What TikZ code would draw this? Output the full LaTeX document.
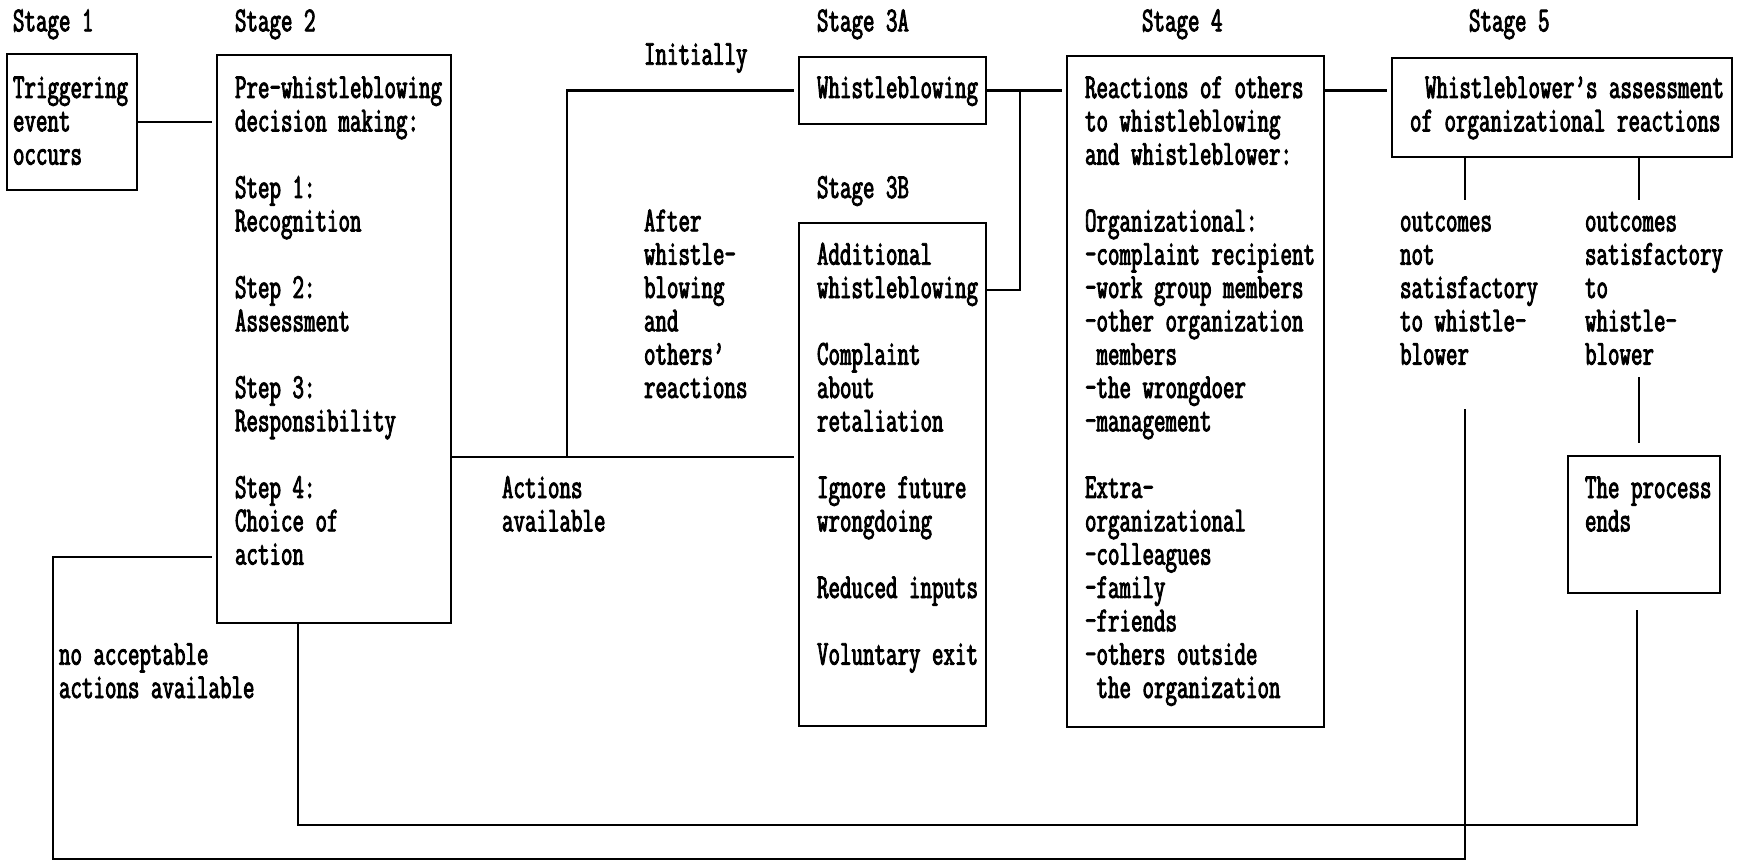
\documentclass[tikz,border=0pt]{standalone}
\usepackage{fontspec}
\newfontfamily\tw{Latin Modern Mono}[FakeStretch=0.638, FakeBold=2.5]
\newcommand\ml[1]{\vtop{\baselineskip=33.33pt\lineskiplimit=-\maxdimen\lineskip=0pt\halign{##\hfil\cr#1\crcr}}}
\tikzset{
  ln/.style={line width=2.3pt},
  box/.style={draw, line width=2.3pt, inner sep=0pt, outer sep=0pt, anchor=north west},
  txt/.style={inner sep=0pt, outer sep=0pt, anchor=base west, font={\tw\fontsize{35pt}{33.33pt}\selectfont}}
}
\begin{document}
\begin{tikzpicture}[x=1pt,y=-1pt]
\useasboundingbox (0,0) rectangle (1739,861);
% stage labels
\node[txt] (st1) at (13,31.3) {Stage 1};
\node[txt] (st2) at (235,31.3) {Stage 2};
\node[txt] (st3a) at (817,31.3) {Stage 3A};
\node[txt] (st4) at (1142,31.3) {Stage 4};
\node[txt] (st5) at (1469,31.3) {Stage 5};
\node[txt] (init) at (644,64.7) {Initially};
\node[txt] (st3b) at (817,198) {Stage 3B};
% boxes
\node[box, minimum width=130pt, minimum height=136pt] (trig) at (7,54) {};
\node[box, minimum width=234pt, minimum height=568pt] (s2) at (217,55) {};
\node[box, minimum width=187pt, minimum height=67pt] (a3) at (799,57) {};
\node[box, minimum width=187pt, minimum height=503pt] (b3) at (799,223) {};
\node[box, minimum width=257pt, minimum height=671pt] (s4) at (1067,56) {};
\node[box, minimum width=340pt, minimum height=99pt] (s5) at (1392,58) {};
\node[box, minimum width=152pt, minimum height=137pt] (pe) at (1568,456) {};
% box texts
\node[txt] (trigt) at (13,98) {\ml{Triggering\cr event\cr occurs}};
\node[txt] (s2t) at (235,98) {\ml{Pre-whistleblowing\cr decision making:\cr\cr Step 1:\cr Recognition\cr\cr Step 2:\cr Assessment\cr\cr Step 3:\cr Responsibility\cr\cr Step 4:\cr Choice of\cr action}};
\node[txt] (a3t) at (817,98) {Whistleblowing};
\node[txt] (b3t) at (817,264.7) {\ml{Additional\cr whistleblowing\cr\cr Complaint\cr about\cr retaliation\cr\cr Ignore future\cr wrongdoing\cr\cr Reduced inputs\cr\cr Voluntary exit}};
\node[txt] (s4t) at (1085,98) {\ml{Reactions of others\cr to whistleblowing\cr and whistleblower:\cr\cr Organizational:\cr -complaint recipient\cr -work group members\cr -other organization\cr \ members\cr -the wrongdoer\cr -management\cr\cr Extra-\cr organizational\cr -colleagues\cr -family\cr -friends\cr -others outside\cr \ the organization}};
\node[txt] (s5t) at (1410,98) {\ml{\hspace*{15pt}Whistleblower’s assessment\cr of organizational reactions}};
\node[txt] (pet) at (1585,498) {\ml{The process\cr ends}};
% free labels
\node[txt] (after) at (644,231.3) {\ml{After\cr whistle-\cr blowing\cr and\cr others’\cr reactions}};
\node[txt] (actions) at (502,498) {\ml{Actions\cr available}};
\node[txt] (notsat) at (1400,231.3) {\ml{outcomes\cr not\cr satisfactory\cr to whistle-\cr blower}};
\node[txt] (sat) at (1585,231.3) {\ml{outcomes\cr satisfactory\cr to\cr whistle-\cr blower}};
\node[txt] (noacc) at (59,664.7) {\ml{no acceptable\cr actions available}};
% coordinates
\coordinate (j1) at (567,457);
\coordinate (j2) at (1020,90.5);
\coordinate (j3) at (1020,290);
\coordinate (o1) at (1465,200);
\coordinate (o2) at (1639,200);
\coordinate (o3) at (1639,377);
\coordinate (o4) at (1639,443);
\coordinate (l1) at (1465,409);
\coordinate (l2) at (1465,859);
\coordinate (l3) at (53,859);
\coordinate (l4) at (53,557);
\coordinate (r1) at (298,825);
\coordinate (r2) at (1637,825);
\coordinate (r3) at (1637,610);
% connectors
\draw[ln, shorten >=5pt] (trig.east) -- (trig.east -| s2.west);
\draw[ln, shorten >=5pt] (j1 -| s2.east) -- (j1 -| b3.west);
\draw[ln, shorten >=5pt] (j1) |- (a3.west);
\draw[ln, shorten >=5pt] (a3.east) -- (a3.east -| s4.west);
\draw[ln] (j2) -- (j3) -- (j3 -| b3.east);
\draw[ln, shorten >=5pt] (a3.east -| s4.east) -- (a3.east -| s5.west);
\draw[ln] (o1 |- s5.south) -- (o1);
\draw[ln] (o2 |- s5.south) -- (o2);
\draw[ln] (o3) -- (o4);
\draw[ln, shorten >=5pt] (l1) -- (l2) -- (l3) -- (l4) -- (l4 -| s2.west);
\draw[ln] (r1 |- s2.south) -- (r1) -- (r2) -- (r3);
\end{tikzpicture}
\end{document}
